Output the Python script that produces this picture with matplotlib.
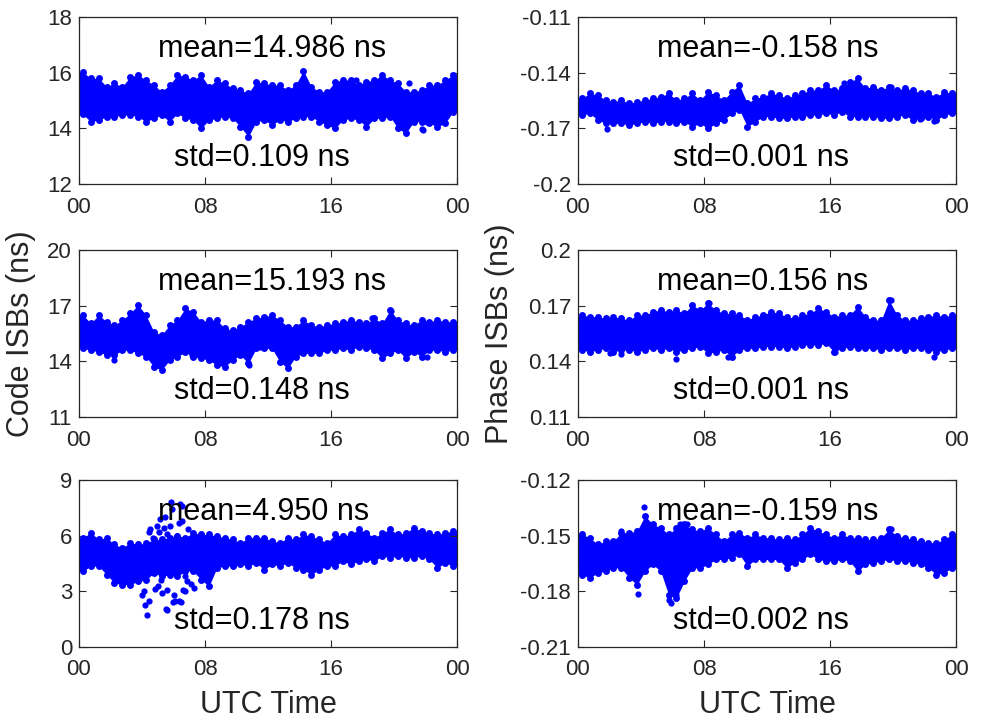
import numpy as np
import matplotlib.pyplot as plt

plt.rcParams['font.family'] = ['Liberation Sans', 'DejaVu Sans']

# half-hour bins over one day (UTC hours)
hours = np.arange(0.25, 24, 0.5)

# --- code ISBs, system 1 (upper / lower edge of the point cloud per bin)
c1_hi = [16.02, 15.8, 15.8, 15.5, 15.62, 15.5, 15.86, 15.92, 15.74, 15.56, 15.32, 15.56,
         15.92, 15.86, 15.74, 15.92, 15.5, 15.74, 15.62, 15.44, 15.38, 15.26, 15.68, 15.62,
         15.56, 15.56, 15.38, 15.56, 16.07, 15.5, 15.32, 15.32, 15.68, 15.74, 15.74, 15.56,
         15.68, 15.74, 15.92, 15.74, 15.62, 15.32, 15.32, 15.38, 15.56, 15.56, 15.74, 15.92]
c1_lo = [14.5, 14.24, 14.3, 14.42, 14.42, 14.48, 14.48, 14.42, 14.24, 14.36, 14.48, 14.24,
         14.54, 14.36, 14.3, 14.0, 14.3, 14.36, 14.42, 14.36, 14.06, 13.7, 14.24, 14.3,
         14.12, 14.3, 14.24, 14.36, 14.42, 14.42, 14.24, 14.12, 14.0, 14.3, 14.36, 14.3,
         14.06, 14.36, 14.36, 14.42, 14.0, 13.82, 14.24, 14.24, 14.18, 14.06, 14.18, 14.6]
c1_out_t = [20.95, 22.1, 21.8, 17.6, 21.85]
c1_out_v = [15.62, 14.24, 13.96, 15.74, 13.94]

# --- phase ISBs, system 1
p1_hi = [-0.1538, -0.1511, -0.1520, -0.1547, -0.1556, -0.1547, -0.1565, -0.1556, -0.1547, -0.1538,
         -0.1529, -0.1511, -0.1547, -0.1538, -0.1511, -0.1547, -0.1502, -0.1520, -0.1547, -0.1502,
         -0.1466, -0.1565, -0.1538, -0.1529, -0.1511, -0.1520, -0.1538, -0.1520, -0.1511, -0.1493,
         -0.1493, -0.1466, -0.1493, -0.1484, -0.1449, -0.1431, -0.1484, -0.1475, -0.1493, -0.1475,
         -0.1493, -0.1484, -0.1493, -0.1511, -0.1511, -0.1529, -0.1502, -0.1511]
p1_lo = [-0.1628, -0.1619, -0.1655, -0.1673, -0.1673, -0.1673, -0.1682, -0.1673, -0.1664, -0.1673,
         -0.1664, -0.1664, -0.1673, -0.1664, -0.1691, -0.1673, -0.1700, -0.1673, -0.1655, -0.1619,
         -0.1600, -0.1691, -0.1664, -0.1637, -0.1637, -0.1646, -0.1646, -0.1637, -0.1637, -0.1628,
         -0.1628, -0.1619, -0.1628, -0.1610, -0.1637, -0.1637, -0.1637, -0.1637, -0.1646, -0.1646,
         -0.1637, -0.1628, -0.1655, -0.1646, -0.1637, -0.1655, -0.1628, -0.1619]
p1_out_t = [1.85, 21.7, 22.6, 19.9, 16.9]
p1_out_v = [-0.1705, -0.1651, -0.166, -0.1475, -0.1457]

# --- code ISBs, system 2
c2_hi = [16.5, 16.05, 16.5, 16.14, 15.96, 16.23, 16.59, 17.04, 16.5, 15.6, 15.42, 15.96,
         16.23, 16.86, 16.68, 16.14, 16.23, 16.23, 15.78, 15.69, 15.87, 16.14, 16.32, 16.41,
         16.5, 16.23, 15.87, 15.87, 16.23, 15.96, 15.87, 15.96, 16.05, 16.14, 16.23, 16.14,
         16.05, 16.32, 16.05, 16.77, 16.23, 16.05, 15.96, 16.23, 16.14, 16.23, 16.14, 16.14]
c2_lo = [14.7, 14.6, 14.52, 14.34, 14.34, 14.6, 14.6, 14.43, 14.25, 13.71, 13.53, 14.07,
         14.25, 14.5, 14.25, 14.16, 14.07, 13.8, 13.71, 14.07, 14.34, 13.89, 14.7, 14.7,
         14.7, 13.98, 13.62, 14.25, 14.43, 14.43, 14.43, 14.6, 14.6, 14.7, 14.6, 14.79,
         14.7, 14.6, 14.16, 14.43, 14.6, 14.16, 14.52, 14.25, 14.6, 14.6, 14.52, 14.6]
c2_out_t = [18.6, 19.8, 11.5, 7.2, 2.2, 10.8, 22.1]
c2_out_v = [16.32, 16.7, 14.8, 14.34, 14.07, 13.8, 14.25]

# --- phase ISBs, system 2
p2_hi = [0.165, 0.1641, 0.1641, 0.1632, 0.1641, 0.1632, 0.1623, 0.165, 0.165, 0.1668, 0.1677, 0.1668,
         0.1677, 0.1659, 0.1704, 0.1677, 0.1713, 0.1677, 0.1659, 0.1659, 0.165, 0.1623, 0.1641, 0.165,
         0.1668, 0.1659, 0.1641, 0.1632, 0.165, 0.1659, 0.1686, 0.1668, 0.1641, 0.165, 0.165, 0.1695,
         0.1641, 0.1623, 0.1623, 0.173, 0.165, 0.1623, 0.1623, 0.1632, 0.1641, 0.165, 0.1641, 0.165]
p2_lo = [0.1461, 0.1452, 0.1461, 0.147, 0.1452, 0.1461, 0.1461, 0.1452, 0.1461, 0.147, 0.1461, 0.147,
         0.1452, 0.1461, 0.147, 0.1479, 0.1443, 0.1452, 0.1461, 0.1425, 0.1461, 0.147, 0.147, 0.1479,
         0.1479, 0.1479, 0.147, 0.1479, 0.1488, 0.1488, 0.1488, 0.1497, 0.1452, 0.147, 0.1479, 0.147,
         0.147, 0.147, 0.1461, 0.147, 0.147, 0.1461, 0.147, 0.147, 0.1461, 0.1452, 0.1461, 0.147]
p2_out_t = [6.2, 9.5, 19.9, 22.6, 8.3, 2.0, 2.7, 16.3]
p2_out_v = [0.1411, 0.1425, 0.173, 0.1425, 0.1713, 0.1443, 0.1438, 0.1452]

# --- code ISBs, system 3
c3_hi = [5.89, 6.16, 5.8, 5.89, 5.53, 5.35, 5.62, 5.53, 5.6, 5.8, 5.8, 5.9,
         6.0, 5.9, 6.16, 6.07, 6.07, 5.98, 5.89, 5.8, 5.62, 5.89, 5.89, 5.89,
         5.71, 5.62, 5.89, 5.8, 6.07, 5.98, 5.8, 5.62, 6.07, 5.98, 6.07, 6.34,
         6.16, 5.89, 6.16, 6.34, 6.07, 6.16, 6.43, 6.25, 6.16, 6.07, 6.16, 6.25]
c3_lo = [4.08, 4.36, 4.36, 3.9, 3.45, 3.36, 3.36, 3.54, 3.6, 4.0, 3.8, 3.9,
         3.8, 4.1, 4.08, 3.63, 3.27, 4.26, 4.36, 4.36, 4.45, 4.36, 4.54, 4.17,
         4.45, 4.36, 4.54, 4.26, 4.17, 3.9, 4.17, 4.36, 4.36, 4.63, 4.45, 4.63,
         4.72, 4.63, 4.9, 4.81, 4.9, 4.81, 4.81, 4.9, 4.72, 4.26, 4.54, 4.36]
c3_out_t = [4.0, 4.21, 4.32, 4.42, 4.1, 4.53, 4.95, 5.16, 5.37, 5.47, 5.58, 5.58, 5.79, 5.89, 6.0,
            6.1, 6.32, 6.32, 6.42, 6.53, 6.74, 6.84, 6.95, 6.63, 5.5, 5.95, 6.5, 5.82, 6.56, 5.08,
            4.44, 4.7, 5.0, 5.2, 5.6, 6.2, 6.7, 7.1, 7.3, 5.3, 4.8]
c3_out_v = [2.82, 2.28, 1.73, 2.46, 3.0, 6.34, 6.52, 6.89, 6.43, 6.98, 3.09, 2.0, 6.52, 7.43, 2.82,
            2.46, 2.46, 6.7, 7.7, 6.8, 3.81, 3.54, 6.34, 3.09, 2.04, 2.4, 2.45, 7.79, 7.6, 6.2,
            6.2, 5.9, 3.3, 3.6, 6.1, 6.0, 3.0, 3.4, 3.2, 2.9, 3.1]

# --- phase ISBs, system 3
p3_hi = [-0.1493, -0.1511, -0.1547, -0.1529, -0.1529, -0.1484, -0.1484, -0.1475, -0.1393, -0.1439,
         -0.1457, -0.1493, -0.1457, -0.1439, -0.1466, -0.1475, -0.1457, -0.1493, -0.1529, -0.1493,
         -0.1484, -0.1511, -0.1493, -0.1511, -0.1511, -0.1520, -0.1511, -0.1520, -0.1493, -0.1457,
         -0.1475, -0.1493, -0.1511, -0.1493, -0.1511, -0.1511, -0.1520, -0.1520, -0.1511, -0.1466,
         -0.1502, -0.1511, -0.1520, -0.1529, -0.1538, -0.1538, -0.1520, -0.1493]
p3_lo = [-0.1710, -0.1728, -0.1700, -0.1692, -0.1674, -0.1674, -0.1728, -0.1764, -0.1692, -0.1655,
         -0.1692, -0.1818, -0.1836, -0.1746, -0.1674, -0.1674, -0.1655, -0.1628, -0.1628, -0.1619,
         -0.1601, -0.1664, -0.1628, -0.1628, -0.1628, -0.1628, -0.1674, -0.1646, -0.1628, -0.1601,
         -0.1628, -0.1637, -0.1637, -0.1628, -0.1637, -0.1692, -0.1655, -0.1646, -0.1637, -0.1628,
         -0.1637, -0.1637, -0.1646, -0.1655, -0.1674, -0.1710, -0.1700, -0.1674]
p3_out_t = [4.2, 3.8, 5.8, 5.9, 6.2, 6.5, 6.9, 19.9, 6.1, 2.7]
p3_out_v = [-0.1345, -0.1814, -0.1845, -0.1863, -0.1818, -0.1439, -0.1435, -0.1466, -0.1556, -0.1475]

yticks = [[12, 14, 16, 18], [-0.2, -0.17, -0.14, -0.11],
          [11, 14, 17, 20], [0.11, 0.14, 0.17, 0.2],
          [0, 3, 6, 9], [-0.21, -0.18, -0.15, -0.12]]
means = ['14.986', '-0.158', '15.193', '0.156', '4.950', '-0.159']
stds = ['0.109', '0.001', '0.148', '0.001', '0.178', '0.002']
xticks = [0, 8, 16, 24]
xticklabels = ['00', '08', '16', '00']

panels = [(c1_hi, c1_lo, c1_out_t, c1_out_v), (p1_hi, p1_lo, p1_out_t, p1_out_v),
          (c2_hi, c2_lo, c2_out_t, c2_out_v), (p2_hi, p2_lo, p2_out_t, p2_out_v),
          (c3_hi, c3_lo, c3_out_t, c3_out_v), (p3_hi, p3_lo, p3_out_t, p3_out_v)]

fig = plt.figure(figsize=(9.85, 7.2), dpi=100)
lefts = [0.0802, 0.5868]
bottoms = [0.7444, 0.4208, 0.1014]
x_band = np.r_[0, hours, 24]
axes = []
for i, (hi, lo, ot, ov) in enumerate(panels):
    r, c = divmod(i, 2)
    ax = fig.add_axes([lefts[c], bottoms[r], 0.3838, 0.2319])
    axes.append(ax)
    ax.fill_between(x_band, np.r_[lo[0], lo, lo[-1]], np.r_[hi[0], hi, hi[-1]],
                    color='b', lw=0)
    ax.plot(hours, hi, 'o', color='b', ms=5, mec='none')
    ax.plot(hours, lo, 'o', color='b', ms=5, mec='none')
    ax.plot(ot, ov, 'o', color='b', ms=4.5, mec='none')
    ax.set_xlim(0, 24)
    ax.set_ylim(yticks[i][0], yticks[i][-1])
    ax.set_xticks(xticks)
    ax.set_xticklabels(xticklabels)
    ax.set_yticks(yticks[i])
    ax.set_yticklabels(['%g' % v for v in yticks[i]])
    ax.tick_params(direction='in', top=True, right=True, length=5, width=0.8,
                   labelsize=16, colors='#262626')
    ax.tick_params(axis='x', pad=9)
    ax.tick_params(axis='y', pad=5)
    for s in ax.spines.values():
        s.set_color('#262626')
        s.set_linewidth(0.9)
    ax.text(5.0, 0.81, 'mean=' + means[i] + ' ns', transform=ax.get_xaxis_transform(),
            fontsize=22, va='center', ha='left', color='k')
    ax.text(6.0, 0.155, 'std=' + stds[i] + ' ns', transform=ax.get_xaxis_transform(),
            fontsize=22, va='center', ha='left', color='k')

axes[4].set_xlabel('UTC Time', fontsize=22, color='#262626', labelpad=7)
axes[5].set_xlabel('UTC Time', fontsize=22, color='#262626', labelpad=7)
axes[2].set_ylabel('Code ISBs (ns)', fontsize=22, color='#262626')
axes[3].set_ylabel('Phase ISBs (ns)', fontsize=22, color='#262626')
axes[2].yaxis.set_label_coords(-0.114, 0.5)
axes[3].yaxis.set_label_coords(-0.167, 0.5)

fig.savefig('out.png', dpi=100)
